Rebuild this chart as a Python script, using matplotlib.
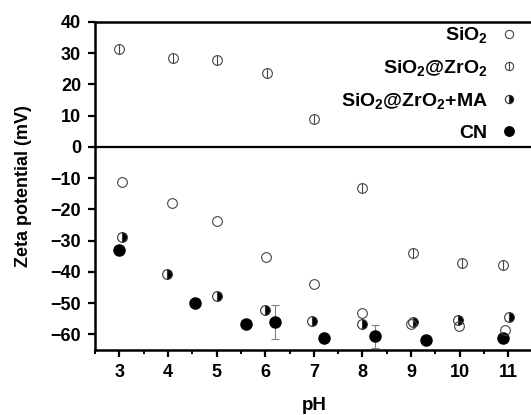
import matplotlib
matplotlib.use("Agg")
import matplotlib.pyplot as plt
from matplotlib.legend_handler import HandlerTuple
from matplotlib.ticker import MultipleLocator

plt.rcParams['font.family'] = 'Liberation Sans'
plt.rcParams['font.weight'] = 'bold'
plt.rcParams['mathtext.fontset'] = 'custom'
plt.rcParams['mathtext.rm'] = 'Liberation Sans:bold'
plt.rcParams['mathtext.it'] = 'Liberation Sans:bold'
plt.rcParams['mathtext.bf'] = 'Liberation Sans:bold'

# data
ph_sio2 = [3.05, 4.08, 5.0, 6.02, 7.0, 8.0, 9.0, 9.98, 10.94]
zeta_sio2 = [-11.3, -17.9, -23.8, -35.2, -44.0, -53.3, -56.7, -57.5, -58.8]

ph_zr = [2.99, 4.1, 5.0, 6.04, 7.0, 8.0, 9.04, 10.04, 10.9]
zeta_zr = [31.5, 28.4, 27.7, 23.8, 8.8, -13.2, -33.9, -37.1, -37.9]

ph_ma = [3.05, 3.99, 5.01, 5.99, 6.97, 8.0, 9.04, 9.96, 11.01]
zeta_ma = [-28.9, -40.6, -47.8, -52.1, -55.9, -56.8, -56.1, -55.5, -54.5]

ph_cn = [3.0, 4.56, 5.6, 6.2, 7.2, 8.25, 9.3, 10.9]
zeta_cn = [-32.9, -50.1, -56.7, -56.1, -61.3, -60.7, -62.0, -61.1]
err_cn = [0, 0, 0, 5.5, 0, 3.6, 0, 0]

fig = plt.figure(figsize=(5.31, 4.15), dpi=100)
ax = fig.add_axes([0.179, 0.157, 0.824, 0.79])

ax.axhline(0, color='black', lw=1.6, zorder=1)

# CN with error bars
ax.errorbar(ph_cn, zeta_cn, yerr=err_cn, fmt='none', ecolor='gray',
            elinewidth=0.8, capsize=3, capthick=0.8, zorder=2)
h_cn, = ax.plot(ph_cn, zeta_cn, 'o', color='black', ms=8, ls='none', zorder=3)

h_ma, = ax.plot(ph_ma, zeta_ma, 'o', ls='none', ms=7, fillstyle='right',
                markerfacecolor='black', markerfacecoloralt='white',
                markeredgecolor='#333333', markeredgewidth=0.8, zorder=4)

h_sio2, = ax.plot(ph_sio2, zeta_sio2, 'o', ls='none', ms=7, mfc='none',
                  mec='#444444', mew=0.8, zorder=4)

h_zr1, = ax.plot(ph_zr, zeta_zr, 'o', ls='none', ms=7, mfc='white',
                 mec='#444444', mew=0.8, zorder=4)
h_zr2, = ax.plot(ph_zr, zeta_zr, '|', ls='none', ms=7, mec='#444444',
                 mew=0.8, zorder=5)

ax.set_xlim(2.5, 11.5)
ax.set_ylim(-65, 40)
ax.xaxis.set_major_locator(MultipleLocator(1))
ax.xaxis.set_minor_locator(MultipleLocator(0.5))
ax.yaxis.set_major_locator(MultipleLocator(10))

for s in ['left', 'bottom', 'top']:
    ax.spines[s].set_linewidth(1.8)
ax.spines['right'].set_visible(False)

ax.tick_params(axis='both', which='major', direction='out', length=5,
               width=1.6, labelsize=13, pad=5)
ax.tick_params(axis='x', which='minor', direction='out', length=3, width=1.4)
ax.tick_params(top=False, right=False)

ax.set_xlabel('pH', fontsize=13.5, fontweight='bold', labelpad=12)
ax.set_ylabel('Zeta potential (mV)', fontsize=13, fontweight='bold', labelpad=13)

leg = ax.legend([h_sio2, (h_zr1, h_zr2), h_ma, h_cn],
                ['SiO$_2$', 'SiO$_2$@ZrO$_2$', 'SiO$_2$@ZrO$_2$+MA', 'CN'],
                handler_map={tuple: HandlerTuple(ndivide=1, pad=0)},
                loc='upper right', bbox_to_anchor=(0.995, 1.025),
                markerfirst=False, frameon=False, fontsize=14,
                handlelength=1.0, handletextpad=0.6, labelspacing=0.66,
                borderaxespad=0.2, markerscale=0.85)

fig.savefig('out.png', dpi=100)
